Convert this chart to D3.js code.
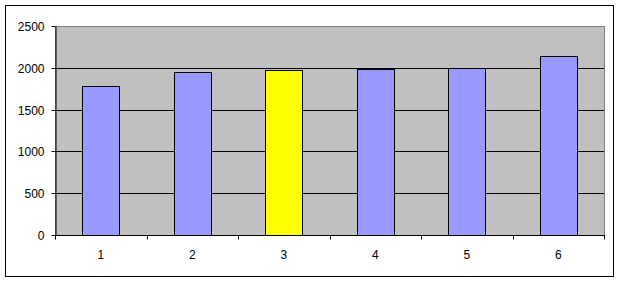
<!DOCTYPE html>
<html>
<head>
<meta charset="utf-8">
<script src="https://cdn.jsdelivr.net/npm/d3@7"></script>
<style>
  body { margin: 0; background: #fff; }
  svg { display: block; }
  text { font-family: "Liberation Sans", Arial, sans-serif; font-size: 12px; fill: #000; }
</style>
</head>
<body>
<svg id="chart" width="620" height="282"></svg>
<script>
// data
const categories = ["1", "2", "3", "4", "5", "6"];
const values = [1779, 1946, 1970, 1982, 1994, 2137];
const highlight = ["3"];
const yTicks = [0, 500, 1000, 1500, 2000, 2500];

const svg = d3.select("#chart"),
      margin = {top: 26, right: 16, bottom: 47, left: 55},
      width = +svg.attr("width"),
      height = +svg.attr("height"),
      chartWidth = width - margin.left - margin.right,
      chartHeight = height - margin.top - margin.bottom;

// outer chart border
svg.append("rect")
  .attr("x", 5.5).attr("y", 5.5)
  .attr("width", 608).attr("height", 271)
  .attr("fill", "#fff")
  .attr("stroke", "#000");

const g = svg.append("g").attr("transform", `translate(${margin.left},${margin.top})`);

const x = d3.scaleBand()
  .domain(categories)
  .range([0, chartWidth])
  .paddingInner(0.6)
  .paddingOuter(0.3);

const xb = d3.scaleBand().domain(categories).range([0, chartWidth]);

const y = d3.scaleLinear()
  .domain([0, 2500])
  .range([chartHeight, 0]);

// plot area
g.append("rect")
  .attr("x", 0.5).attr("y", 0.5)
  .attr("width", chartWidth).attr("height", chartHeight)
  .attr("fill", "#c0c0c0")
  .attr("stroke", "#808080");

// gridlines
g.selectAll("line.grid")
  .data(yTicks.filter(d => d > 0 && d < 2500))
  .enter().append("line")
  .attr("class", "grid")
  .attr("x1", 0).attr("x2", chartWidth)
  .attr("y1", d => Math.round(y(d)) + 0.5)
  .attr("y2", d => Math.round(y(d)) + 0.5)
  .attr("stroke", "#000");

// bars
g.selectAll("rect.bar")
  .data(categories)
  .enter().append("rect")
  .attr("class", "bar")
  .attr("x", d => Math.round(x(d)) + 0.5)
  .attr("width", Math.round(x.bandwidth()))
  .attr("y", (d, i) => Math.round(y(values[i])) + 0.5)
  .attr("height", (d, i) => Math.round(chartHeight - y(values[i])))
  .attr("fill", d => highlight.includes(d) ? "#ffff00" : "#9999ff")
  .attr("stroke", "#000");

// y axis
const yAxis = g.append("g")
  .attr("transform", "translate(0.5,0)")
  .call(d3.axisLeft(y).tickValues(yTicks).tickFormat(d3.format("d"))
    .tickSize(4).tickPadding(7).tickSizeOuter(0));
yAxis.select(".domain").attr("stroke", "#000");
yAxis.selectAll(".tick line").attr("stroke", "#000");
yAxis.selectAll(".tick").attr("transform", d => `translate(0,${Math.round(y(d)) + 0.5})`);
yAxis.selectAll("text").style("font-size", "12px").attr("dy", "0.35em");

// x axis: ticks at category boundaries
const xAxis = g.append("g")
  .attr("transform", `translate(0,${chartHeight + 0.5})`);
xAxis.append("line")
  .attr("x1", 0).attr("x2", chartWidth + 1)
  .attr("stroke", "#000");
xAxis.selectAll("line.tk")
  .data(categories.concat(["end"]))
  .enter().append("line")
  .attr("class", "tk")
  .attr("x1", (d, i) => Math.round(i * xb.bandwidth()) + 0.5)
  .attr("x2", (d, i) => Math.round(i * xb.bandwidth()) + 0.5)
  .attr("y1", 0).attr("y2", 4)
  .attr("stroke", "#000");
xAxis.selectAll("text")
  .data(categories)
  .enter().append("text")
  .attr("x", d => xb(d) + xb.bandwidth() / 2)
  .attr("y", 19)
  .attr("dy", "0.35em")
  .attr("text-anchor", "middle")
  .text(d => d);
</script>
</body>
</html>
